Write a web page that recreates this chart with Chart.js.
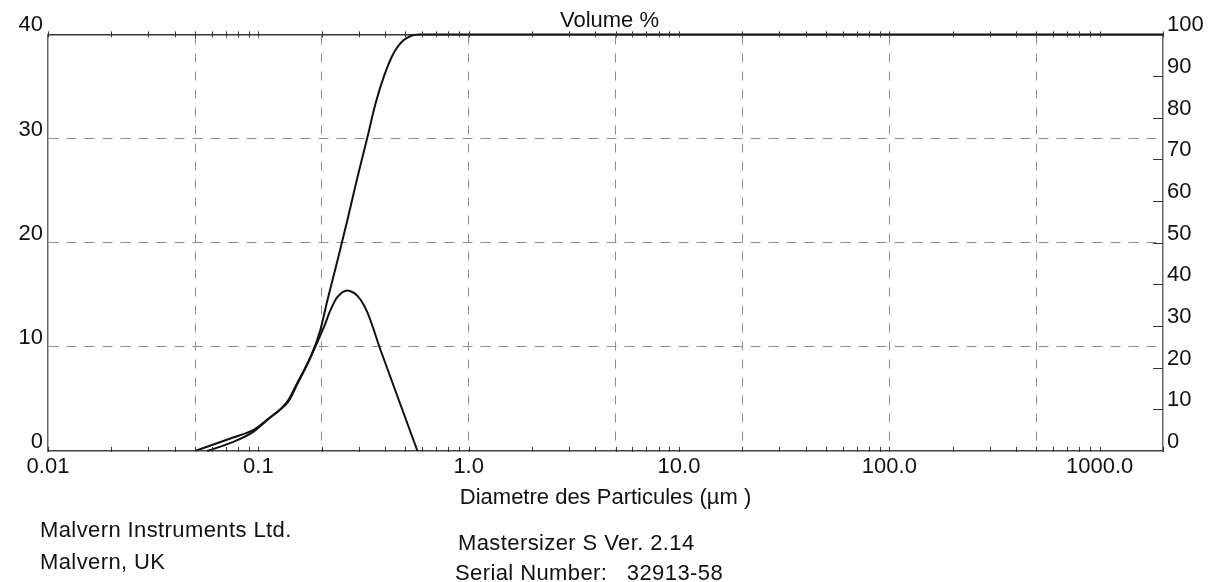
<!DOCTYPE html>
<html lang="fr">
<head>
<meta charset="UTF-8">
<title>Volume %</title>
<script src="https://cdn.jsdelivr.net/npm/chart.js"></script>
<style>
  html, body { margin: 0; padding: 0; background: #fff; }
  #wrap { position: relative; width: 1219px; height: 582px; }
  .note { position: absolute; font-family: "Liberation Sans", Arial, sans-serif; font-size: 22px; color: #111; white-space: pre; line-height: 1; letter-spacing: 0.4px; }
</style>
</head>
<body>
<div id="wrap">
  <canvas id="grafico" width="1219" height="582"></canvas>
  <div class="note" style="left:40px; top:519px;">Malvern Instruments Ltd.</div>
  <div class="note" style="left:40px; top:551px;">Malvern, UK</div>
  <div class="note" style="left:458px; top:532px;">Mastersizer S Ver. 2.14</div>
  <div class="note" style="left:455px; top:562px;">Serial Number:   32913-58</div>
</div>
<script>
  // axes
  var xMin = 0.01, xMax = 2000;
  var decadeTicks = [0.01, 0.1, 1, 10, 100, 1000];
  var decadeLabels = ['0.01', '0.1', '1.0', '10.0', '100.0', '1000.0'];
  var gridSizes = [0.05, 0.2, 1, 5, 20, 100, 500];
  var leftMax = 40, rightMax = 100;

  // volume % par classe (axe gauche)
  var freqSizes = [0.050, 0.076, 0.0946, 0.110, 0.137, 0.153, 0.177, 0.205, 0.220, 0.238, 0.265, 0.296, 0.330, 0.381, 0.571];
  var freqValues = [0, 1.3, 2.0, 3.0, 4.6, 6.4, 9.0, 11.9, 13.5, 14.8, 15.4, 14.9, 13.3, 9.7, 0];

  // volume cumulé (axe droit)
  var cumSizes = [0.0571, 0.076, 0.0946, 0.110, 0.137, 0.153, 0.177, 0.197, 0.213, 0.238, 0.265, 0.296, 0.330, 0.361, 0.394, 0.439, 0.490, 0.578, 2000];
  var cumValues = [0, 2.2, 4.6, 7.4, 11.8, 16.3, 22.5, 29.0, 36.2, 45.8, 55.4, 65.7, 75.3, 83.5, 89.7, 95.4, 98.6, 100, 100];

  var police = { family: '"Liberation Sans", Arial, sans-serif', size: 22, weight: 'normal' };
  var encre = '#111';
  var grille = '#8c8c8c';

  function pts(xs, ys) {
    return xs.map(function (x, i) { return { x: x, y: ys[i] }; });
  }

  // petites graduations log sur les bords haut/bas + graduations internes axe droit
  var graduations = {
    id: 'graduations',
    afterDatasetsDraw: function (chart) {
      var ctx = chart.ctx, a = chart.chartArea, sx = chart.scales.x, sy2 = chart.scales.y2;
      ctx.save();
      ctx.strokeStyle = '#333';
      ctx.lineWidth = 1;
      ctx.beginPath();
      for (var d = xMin; d < xMax; d *= 10) {
        for (var k = 1; k < 10; k++) {
          var v = d * k;
          if (v > xMax) break;
          var px = Math.round(sx.getPixelForValue(v)) + 0.5;
          ctx.moveTo(px, a.top - 3); ctx.lineTo(px, a.top + 3);
          ctx.moveTo(px, a.bottom - 4); ctx.lineTo(px, a.bottom + 1);
        }
      }
      for (var t = 10; t < rightMax; t += 10) {
        var py = Math.round(sy2.getPixelForValue(t)) + 0.5;
        ctx.moveTo(a.right - 10, py); ctx.lineTo(a.right, py);
      }
      ctx.stroke();
      ctx.restore();
    }
  };

  new Chart(document.getElementById('grafico'), {
    type: 'line',
    data: {
      datasets: [{
        label: 'Volume %',
        data: pts(freqSizes, freqValues),
        yAxisID: 'y',
        borderColor: encre,
        borderWidth: 2,
        pointRadius: 0,
        tension: 0.3,
        fill: false
      }, {
        label: 'Cumul',
        data: pts(cumSizes, cumValues),
        yAxisID: 'y2',
        borderColor: encre,
        borderWidth: 2,
        pointRadius: 0,
        cubicInterpolationMode: 'monotone',
        fill: false,
        clip: 4
      }]
    },
    options: {
      responsive: false,
      animation: false,
      layout: { padding: { top: 0, left: 0, right: 0, bottom: 71 } },
      plugins: {
        legend: { display: false },
        tooltip: { enabled: false },
        title: {
          display: true,
          text: 'Volume %',
          color: encre,
          font: police,
          padding: { top: 8, bottom: 0 }
        }
      },
      scales: {
        x: {
          type: 'logarithmic',
          position: 'bottom',
          min: xMin,
          max: xMax,
          afterBuildTicks: function (s) {
            s.ticks = decadeTicks.map(function (v) { return { value: v }; });
          },
          afterFit: function (s) { s.height = 60; },
          ticks: {
            autoSkip: false,
            maxRotation: 0,
            padding: 3,
            color: encre,
            font: police,
            callback: function (v, i) { return decadeLabels[i]; }
          },
          grid: { display: false, drawTicks: false },
          border: { display: true, color: '#444', width: 1.5 },
          title: {
            display: true,
            text: 'Diametre des Particules (µm )',
            color: encre,
            font: police,
            padding: { top: 5, bottom: 0 }
          }
        },
        xg: {
          type: 'logarithmic',
          position: 'top',
          min: xMin,
          max: xMax,
          afterBuildTicks: function (s) {
            s.ticks = gridSizes.map(function (v) { return { value: v }; });
          },
          ticks: { display: false },
          grid: { drawTicks: false, color: grille, lineWidth: 1 },
          border: { display: true, color: '#333', width: 1.5, dash: [9, 9] }
        },
        y: {
          position: 'left',
          min: 0,
          max: leftMax,
          afterFit: function (s) { s.width = 48; },
          ticks: { stepSize: 10, padding: 5, labelOffset: -9, color: encre, font: police },
          grid: {
            drawTicks: false,
            lineWidth: 1,
            color: function (c) {
              return (c.tick.value === 0 || c.tick.value === leftMax) ? 'rgba(0,0,0,0)' : grille;
            }
          },
          border: { display: true, color: '#666', width: 1.5, dash: [10, 8] }
        },
        y2: {
          position: 'right',
          min: 0,
          max: rightMax,
          afterFit: function (s) { s.width = 56; },
          ticks: { stepSize: 10, padding: 4, labelOffset: -9, color: encre, font: police },
          grid: { display: false, drawTicks: false },
          border: { display: true, color: '#666', width: 1.5 }
        }
      }
    },
    plugins: [graduations]
  });
</script>
</body>
</html>
